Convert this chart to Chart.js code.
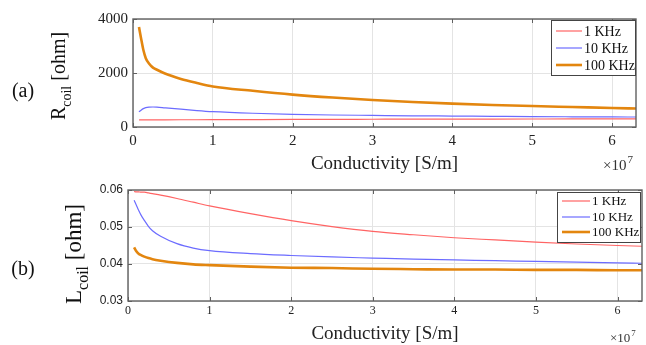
<!DOCTYPE html>
<html lang="en">
<head>
<meta charset="UTF-8" />
<title>Coil R and L vs conductivity</title>
<script src="https://cdn.jsdelivr.net/npm/chart.js@4.4.1/dist/chart.umd.min.js"></script>
<style>
  body { margin: 0; background: #fff; }
  #wrap { position: relative; width: 646px; height: 345px; }
  canvas { position: absolute; left: 0; }
</style>
</head>
<body>
<div id="wrap">
  <canvas id="chartR" width="646" height="175" style="top:0"></canvas>
  <canvas id="chartL" width="646" height="170" style="top:175px"></canvas>
</div>
<script>
// conductivity in S/m
const conductivity = [0.075e7, 0.1e7, 0.13e7, 0.16e7, 0.2e7, 0.25e7, 0.3e7, 0.4e7, 0.6e7, 0.8e7, 1e7,
  1.5e7, 2e7, 2.5e7, 3e7, 3.5e7, 4e7, 4.5e7, 5e7, 5.5e7, 6e7, 6.3e7];
const freqLabels = ["1 KHz", "10 KHz", "100 KHz"];
const xTickValues = [0, 1e7, 2e7, 3e7, 4e7, 5e7, 6e7];

// (a) coil resistance [ohm]
const rCoil1k = [260, 261, 262, 263, 264, 265, 266, 267, 268, 269, 270, 275, 280, 284, 287, 290, 292, 294, 296, 298, 299, 300];
const rCoil10k = [560, 620, 680, 715, 735, 740, 735, 710, 660, 610, 570, 510, 470, 445, 430, 415, 405, 395, 385, 378, 372, 370];
const rCoil100k = [3700, 3300, 2850, 2550, 2350, 2200, 2120, 1980, 1780, 1630, 1500, 1340, 1200, 1090, 1000, 925, 865, 815, 775, 740, 705, 685];

// (b) coil inductance
const lCoil1k = [0.0596, 0.0595, 0.0595, 0.0594, 0.0594, 0.0592, 0.0590, 0.0586, 0.0577, 0.0567, 0.0557, 0.0536, 0.0517, 0.0501,
  0.0488, 0.0479, 0.0471, 0.0465, 0.0459, 0.0454, 0.0450, 0.0448];
const lCoil10k = [0.0572, 0.0560, 0.0545, 0.0532, 0.0518, 0.0502, 0.0490, 0.0475, 0.0455, 0.0443, 0.0436, 0.0428, 0.0423, 0.0419,
  0.0416, 0.0413, 0.0411, 0.0409, 0.0407, 0.0405, 0.0403, 0.0402];
const lCoil100k = [0.0445, 0.0435, 0.0428, 0.0424, 0.0420, 0.0416, 0.0413, 0.0409, 0.0403, 0.0399, 0.0397, 0.0393, 0.0390, 0.0389,
  0.0387, 0.0386, 0.0385, 0.0385, 0.0384, 0.0384, 0.0383, 0.0383];

const colors = ["#ff6464", "#6c6cff", "#e3860f"];
const widths = [1.2, 1.2, 2.6];
const serif = '"Liberation Serif", "Times New Roman", serif';

function makeSets(series) {
  return series.map((vals, i) => ({
    label: freqLabels[i],
    data: conductivity.map((x, k) => ({ x: x, y: vals[k] })),
    borderColor: colors[i],
    borderWidth: widths[i],
    pointRadius: 0,
    cubicInterpolationMode: "monotone",
    fill: false
  }));
}

// box, inner ticks, panel letter, y title with subscript, x10^7 and legend
function panelPlugin(cfg) {
  return {
    id: "panel",
    afterDraw(chart) {
      const { ctx, chartArea: a, scales } = chart;
      ctx.save();
      ctx.strokeStyle = "#606060";
      ctx.lineWidth = 1;
      ctx.beginPath();
      scales.x.ticks.forEach(t => {
        const px = Math.round(scales.x.getPixelForValue(t.value)) + 0.5;
        ctx.moveTo(px, a.bottom); ctx.lineTo(px, a.bottom - 4);
        ctx.moveTo(px, a.top); ctx.lineTo(px, a.top + 4);
      });
      scales.y.ticks.forEach(t => {
        const py = Math.round(scales.y.getPixelForValue(t.value)) + 0.5;
        ctx.moveTo(a.left, py); ctx.lineTo(a.left + 4, py);
        ctx.moveTo(a.right, py); ctx.lineTo(a.right - 4, py);
      });
      ctx.stroke();
      ctx.lineWidth = 1.4;
      ctx.strokeRect(a.left, a.top, a.right - a.left, a.bottom - a.top);

      // panel letter
      ctx.fillStyle = "#111";
      ctx.font = "20px " + serif;
      ctx.textAlign = "center";
      ctx.textBaseline = "middle";
      ctx.fillText(cfg.panel, 23, cfg.panelY);

      // rotated y title: main + subscript + rest
      const t = cfg.yTitle;
      ctx.save();
      ctx.translate(t.x, t.y);
      ctx.rotate(-Math.PI / 2);
      ctx.textAlign = "left";
      ctx.textBaseline = "alphabetic";
      const big = t.size + "px " + serif, small = Math.round(t.size * 0.68) + "px " + serif;
      ctx.font = big; const w1 = ctx.measureText(t.main).width, w3 = ctx.measureText(t.rest).width;
      ctx.font = small; const w2 = ctx.measureText(t.sub).width;
      let x0 = -(w1 + w2 + w3) / 2;
      ctx.font = big; ctx.fillText(t.main, x0, 0);
      ctx.font = small; ctx.fillText(t.sub, x0 + w1, t.size * 0.3);
      ctx.font = big; ctx.fillText(t.rest, x0 + w1 + w2, 0);
      ctx.restore();

      // x10^7 exponent
      const e = cfg.expo;
      ctx.textAlign = "left";
      ctx.textBaseline = "alphabetic";
      ctx.fillStyle = "#333";
      ctx.font = e.size + "px " + serif;
      ctx.fillText("\u00d710", e.x, e.y);
      const ew = ctx.measureText("\u00d710").width;
      ctx.font = Math.round(e.size * 0.7) + "px " + serif;
      ctx.fillText("7", e.x + ew + 1, e.y - e.size * 0.45);

      // legend
      const L = cfg.legend;
      ctx.fillStyle = "#fff";
      ctx.fillRect(L.x, L.y, L.w, L.h);
      ctx.strokeStyle = "#444";
      ctx.lineWidth = 1;
      ctx.strokeRect(L.x + 0.5, L.y + 0.5, L.w, L.h);
      ctx.font = L.size + "px " + serif;
      ctx.textBaseline = "middle";
      chart.data.datasets.forEach((ds, i) => {
        const yy = L.rows[i];
        ctx.strokeStyle = ds.borderColor;
        ctx.lineWidth = ds.borderWidth;
        ctx.beginPath();
        ctx.moveTo(L.x + 5, yy); ctx.lineTo(L.x + 5 + L.line, yy);
        ctx.stroke();
        ctx.fillStyle = "#111";
        ctx.fillText(ds.label, L.x + 7 + L.line, yy + 1);
      });
      ctx.restore();
    }
  };
}

function makeOptions(o) {
  return {
    responsive: false,
    animation: false,
    layout: { padding: { left: 0, right: o.padRight, top: o.padTop, bottom: 0 } },
    plugins: { legend: { display: false }, tooltip: { enabled: false } },
    scales: {
      x: {
        type: "linear",
        bounds: "data",
        min: 0,
        max: 6.3e7,
        afterBuildTicks: s => { s.ticks = xTickValues.map(v => ({ value: v })); },
        afterFit: s => { s.height = o.xHeight; },
        border: { display: false },
        grid: { color: "#e4e4e4", drawTicks: false },
        ticks: {
          autoSkip: false,
          padding: o.xTickPad,
          color: "#222",
          font: { family: serif, size: o.xTickSize },
          maxRotation: 0,
          callback: v => Math.round(v / 1e7)
        },
        title: {
          display: true,
          text: "Conductivity [S/m]",
          color: "#222",
          font: { family: serif, size: 19 },
          padding: { top: 0, bottom: 0 }
        }
      },
      y: {
        min: o.yMin,
        max: o.yMax,
        afterFit: s => { s.width = o.yWidth; },
        border: { display: false },
        grid: { color: "#e4e4e4", drawTicks: false },
        ticks: {
          stepSize: o.yStep,
          padding: 5,
          color: "#222",
          font: { family: o.yTickFamily, size: o.yTickSize },
          callback: o.yFormat
        }
      }
    }
  };
}

new Chart(document.getElementById("chartR"), {
  type: "line",
  data: { datasets: makeSets([rCoil1k, rCoil10k, rCoil100k]) },
  options: makeOptions({
    padRight: 10, padTop: 19, xHeight: 48, yWidth: 133, xTickPad: 5, xTickSize: 15,
    yMin: 0, yMax: 4000, yStep: 2000, yTickFamily: serif, yTickSize: 15,
    yFormat: v => String(v)
  }),
  plugins: [panelPlugin({
    panel: "(a)", panelY: 92,
    yTitle: { x: 65, y: 76, size: 20, main: "R", sub: "coil", rest: " [ohm]" },
    expo: { x: 603, y: 170, size: 15 },
    legend: { x: 551, y: 20, w: 84, h: 55, rows: [31, 48, 65], line: 26, size: 14 }
  })]
});

new Chart(document.getElementById("chartL"), {
  type: "line",
  data: { datasets: makeSets([lCoil1k, lCoil10k, lCoil100k]) },
  options: makeOptions({
    padRight: 4, padTop: 15, xHeight: 44, yWidth: 128, xTickPad: 3, xTickSize: 12,
    yMin: 0.03, yMax: 0.06, yStep: 0.01, yTickFamily: '"Liberation Sans", Arial, sans-serif', yTickSize: 12,
    yFormat: v => v.toFixed(2)
  }),
  plugins: [panelPlugin({
    panel: "(b)", panelY: 95,
    yTitle: { x: 81, y: 79, size: 23, main: "L", sub: "coil", rest: " [ohm]" },
    expo: { x: 610, y: 167, size: 13 },
    legend: { x: 557, y: 17, w: 83, h: 50, rows: [26, 42, 57], line: 28, size: 13 }
  })]
});
</script>
</body>
</html>
